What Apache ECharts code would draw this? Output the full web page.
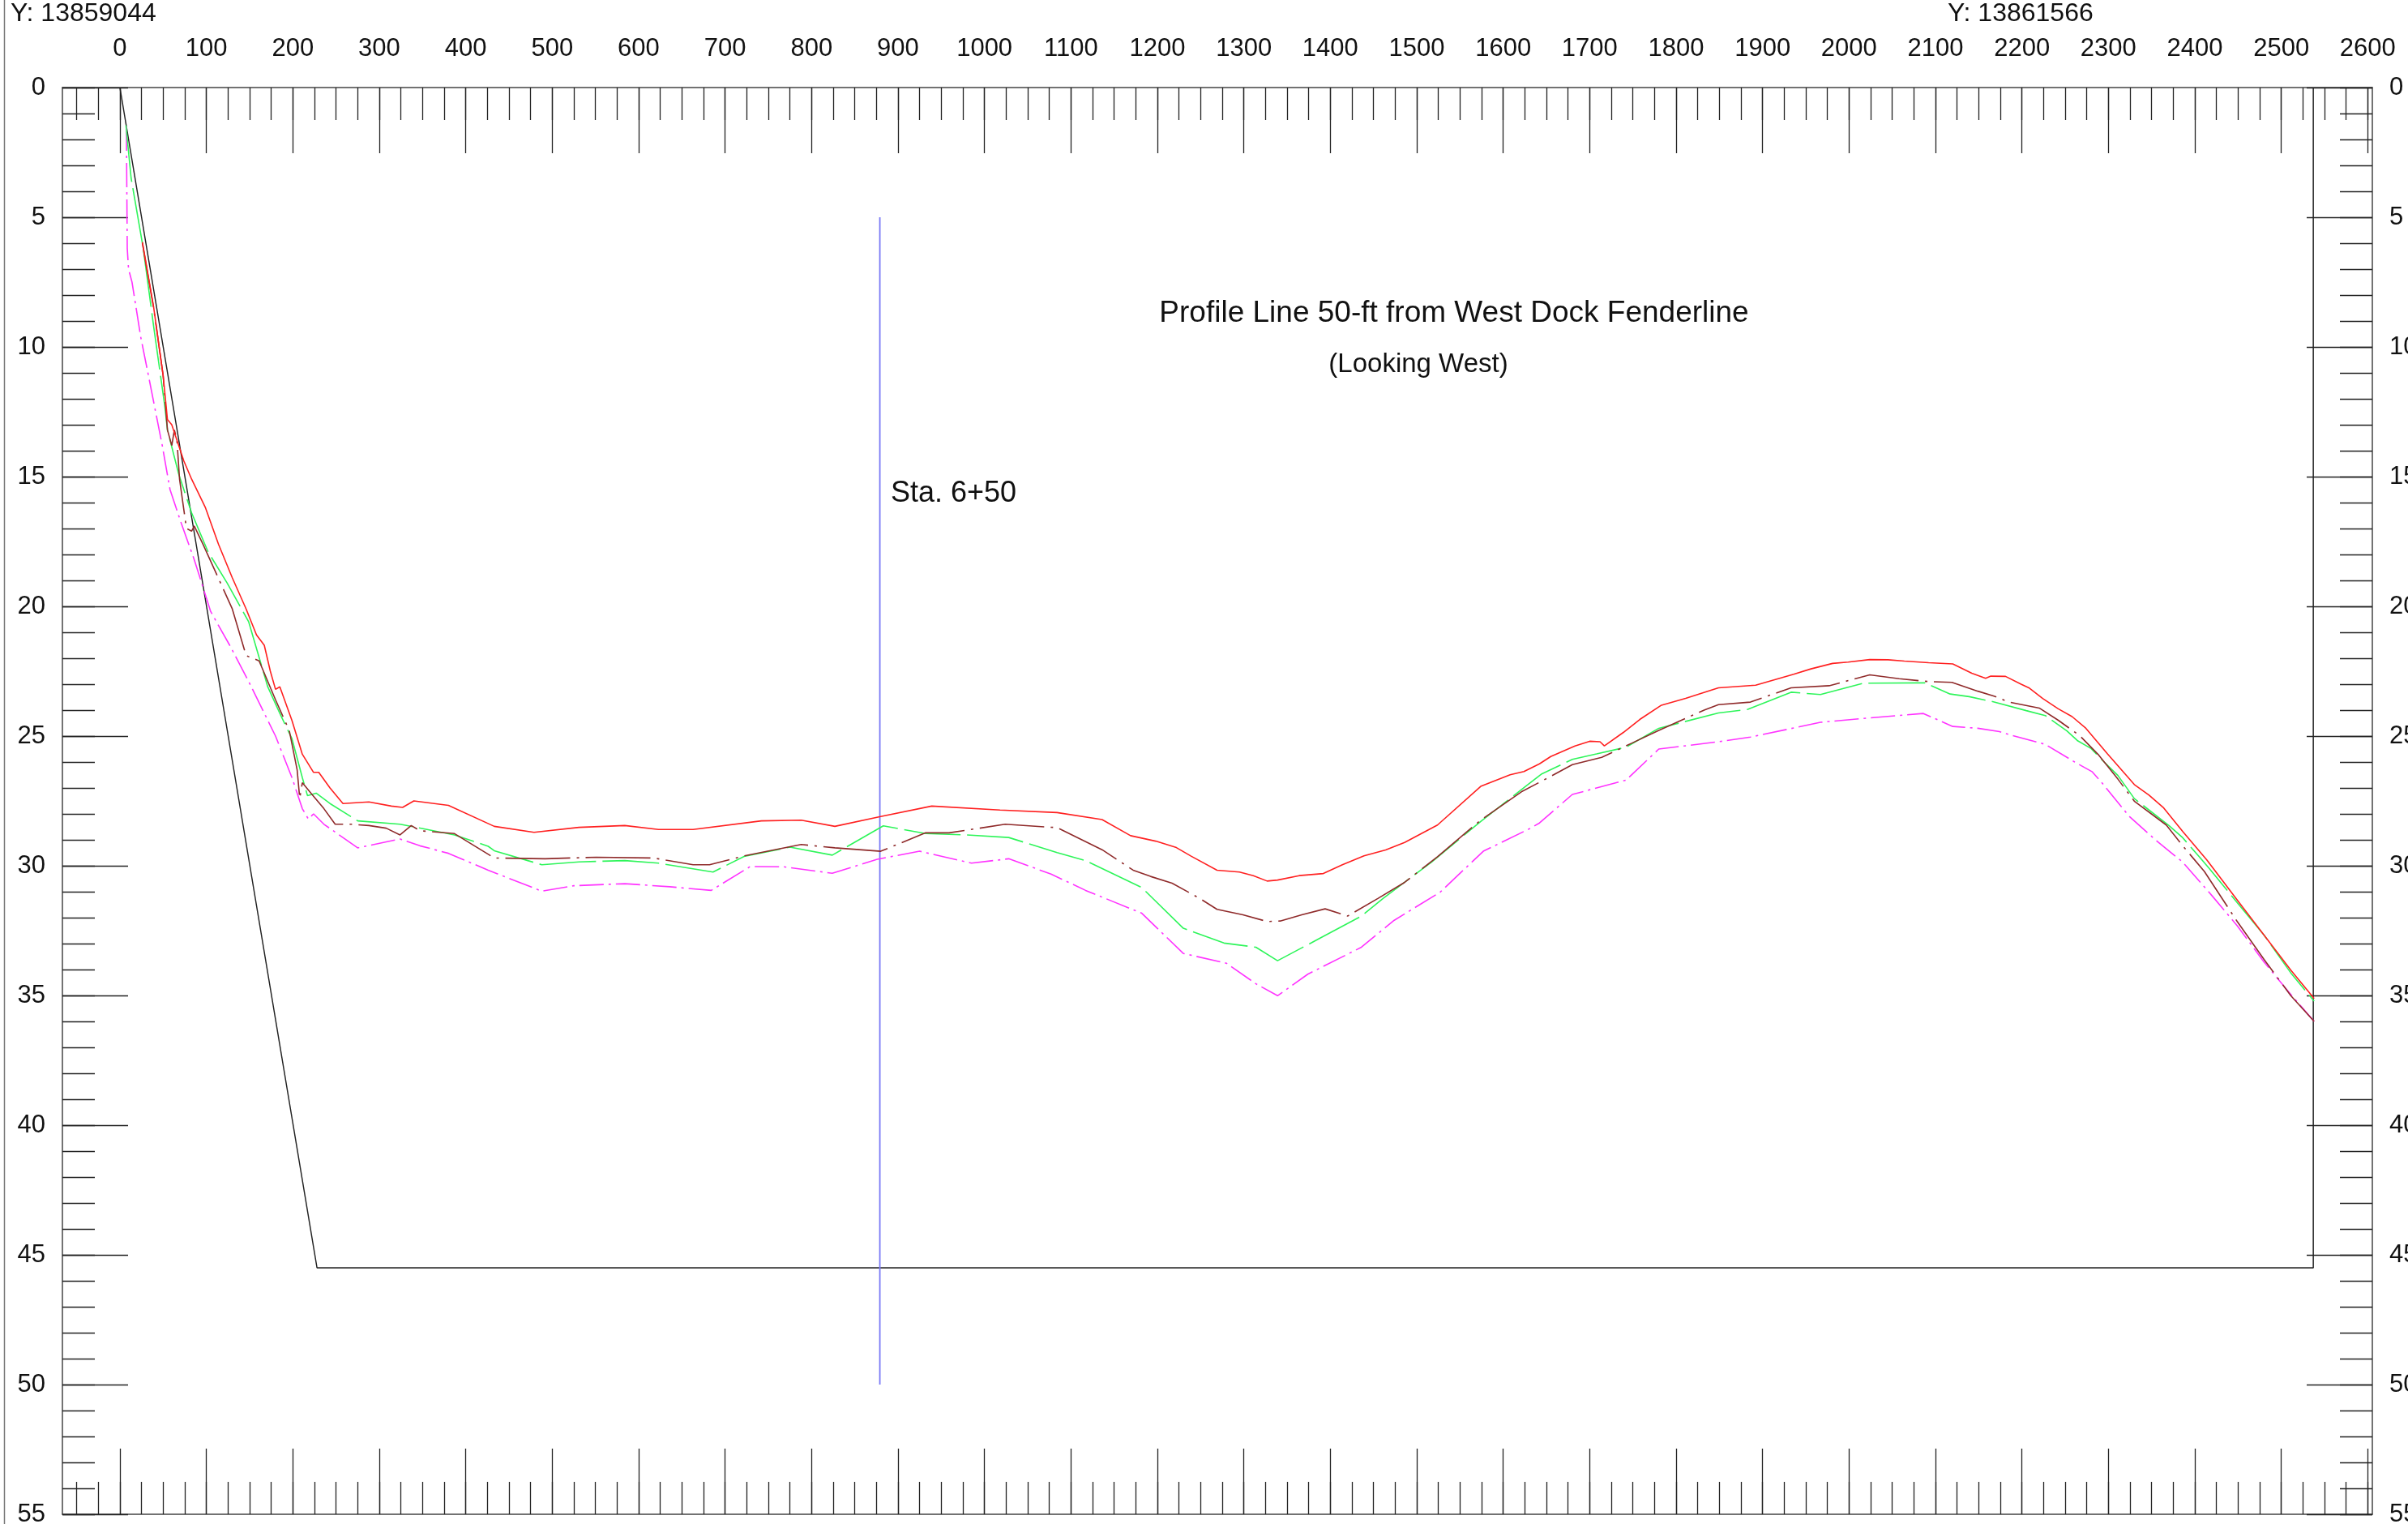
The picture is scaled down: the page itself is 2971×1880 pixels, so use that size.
<!DOCTYPE html>
<html><head><meta charset="utf-8">
<script src="https://cdn.jsdelivr.net/npm/echarts@6/dist/echarts.min.js"></script>
<style>html,body{margin:0;padding:0;background:#fff}#c{width:2971px;height:1880px}</style>
</head><body><div id="c"></div><script>
// ---- data (station ft, depth ft) ----
const redX=[26,39,50,55,60,64,74,83,99,114,130,146,158,167,174,180,185,199,211,224,230,243,258,288,314,327,340,380,433,479,531,584,623,663,742,788,827,880,939,1018,1084,1136,1169,1198,1222,1239,1269,1295,1311,1327,1339,1364,1392,1414,1439,1464,1486,1524,1574,1608,1624,1642,1655,1683,1700,1712,1717,1739,1758,1783,1811,1849,1892,1936,1956,1981,1999,2024,2045,2064,2092,2120,2142,2158,2164,2181,2199,2208,2224,2242,2258,2274,2299,2330,2347,2364,2386,2414,2449,2480,2511,2538];
const redY=[5.96,8.46,11.1,12.8,13.0,13.4,14.4,15.1,16.2,17.6,18.9,20.1,21.1,21.5,22.5,23.2,23.1,24.4,25.7,26.4,26.4,27.0,27.6,27.54,27.7,27.75,27.5,27.67,28.48,28.71,28.52,28.45,28.6,28.6,28.27,28.24,28.48,28.1,27.7,27.85,27.95,28.22,28.84,29.05,29.3,29.63,30.17,30.24,30.38,30.59,30.55,30.38,30.3,29.96,29.62,29.39,29.1,28.43,26.94,26.49,26.37,26.07,25.79,25.38,25.2,25.22,25.38,24.86,24.36,23.81,23.55,23.14,23.04,22.62,22.41,22.2,22.15,22.05,22.06,22.11,22.17,22.22,22.58,22.77,22.69,22.7,23.0,23.14,23.55,23.95,24.25,24.7,25.69,26.87,27.28,27.77,28.68,29.78,31.32,32.67,34.02,35.12];

const brownX=[26,39,50,55,60,63,66,69,77,83,86,96,111,130,146,161,180,196,205,208,211,221,236,249,268,288,308,324,337,347,387,433,492,551,617,663,682,722,788,827,880,932,959,1024,1084,1136,1172,1192,1217,1249,1269,1299,1327,1342,1367,1394,1420,1455,1486,1524,1574,1621,1645,1680,1714,1749,1780,1833,1849,1886,1933,1977,2024,2058,2092,2119,2149,2167,2185,2220,2242,2267,2289,2311,2330,2367,2386,2411,2449,2480,2511,2538];
const brownY=[6.0,8.5,11.1,13.2,13.8,13.2,13.6,15.1,17.0,17.1,16.9,17.6,18.7,20.1,21.9,22.1,23.6,24.8,26.3,27.4,26.8,27.2,27.8,28.4,28.4,28.45,28.55,28.81,28.45,28.65,28.76,29.7,29.73,29.67,29.7,29.96,29.96,29.62,29.18,29.31,29.44,28.73,28.73,28.4,28.53,29.38,30.17,30.41,30.67,31.26,31.68,31.89,32.15,32.13,31.89,31.66,31.94,31.26,30.64,29.65,28.24,27.15,26.73,26.1,25.82,25.27,24.78,23.99,23.79,23.69,23.14,23.06,22.64,22.79,22.9,22.93,23.27,23.45,23.69,23.92,24.39,24.99,25.74,26.66,27.51,28.43,29.23,30.22,32.15,33.61,35.01,36.0];

const greenX=[7,13,27,39,52,55,68,83,102,124,149,171,186,199,211,217,227,243,275,324,340,387,426,433,488,531,584,623,686,722,775,824,883,932,978,1028,1084,1117,1182,1230,1277,1314,1339,1386,1436,1461,1517,1574,1624,1644,1680,1708,1742,1780,1849,1883,1933,1967,2017,2088,2117,2139,2167,2205,2227,2252,2264,2280,2292,2311,2330,2370,2386,2405,2417,2449,2480,2511,2538];
const greenY=[1.46,3.5,6.2,9.2,12.3,13.2,14.9,16.4,17.9,19.1,20.6,23.1,24.2,25.1,26.6,27.3,27.2,27.6,28.27,28.4,28.5,28.81,29.25,29.42,29.96,29.85,29.8,29.9,30.24,29.64,29.28,29.59,28.46,28.76,28.81,28.91,29.49,29.8,30.84,32.41,32.98,33.14,33.66,32.83,31.94,31.26,29.86,28.29,26.99,26.47,25.9,25.69,25.43,24.7,24.11,23.97,23.31,23.4,22.96,22.95,23.38,23.48,23.68,24.02,24.21,24.8,25.17,25.48,25.9,26.52,27.41,28.45,28.92,29.65,30.12,31.42,32.67,34.13,35.22];

const magentaX=[7.5,8.5,10,14,24,33,49,58,71,86,105,127,149,180,199,211,218,224,236,275,324,347,380,426,488,525,584,636,684,729,768,824,876,925,985,1028,1077,1117,1182,1230,1280,1314,1339,1374,1436,1474,1527,1577,1630,1642,1680,1742,1780,1849,1886,1967,2024,2086,2120,2149,2174,2189,2227,2261,2281,2292,2324,2355,2386,2420,2449,2480,2511,2538];
const magentaY=[1.5,6.2,7.0,7.5,9.6,11.1,13.8,15.5,16.8,18.2,20.2,21.5,22.9,25.0,26.6,27.8,28.2,28.0,28.4,29.31,28.97,29.23,29.52,30.17,30.98,30.77,30.69,30.81,30.95,30.03,30.04,30.29,29.75,29.44,29.9,29.73,30.32,30.95,31.83,33.38,33.76,34.55,35.01,34.18,33.14,32.1,31.02,29.44,28.58,28.35,27.25,26.7,25.5,25.22,25.04,24.47,24.3,24.13,24.63,24.7,24.83,24.98,25.32,26.0,26.37,26.78,28.09,29.02,29.86,31.16,32.31,33.71,34.96,36.0];

const templateX=[0,228,2537,2537];
const templateY=[0,45.5,45.5,0];
const stationX=[879,879];
const stationY=[5,50];

const xTickLabels=[0,100,200,300,400,500,600,700,800,900,1000,1100,1200,1300,1400,1500,1600,1700,1800,1900,2000,2100,2200,2300,2400,2500,2600];
const yTickLabels=[0,5,10,15,20,25,30,35,40,45,50,55];
const xMinorTicks=[]; for(let v=-50; v<=2600; v+=25) xMinorTicks.push(v);
const yMinorTicks=[]; for(let v=0; v<=55; v+=1) yMinorTicks.push(v);

const X_MIN=-66.5, X_MAX=2605.3, Y_MIN=0, Y_MAX=55;
const FONT='Liberation Sans, Arial, sans-serif';

function pairs(xs, ys){ return xs.map((x,i)=>[x, ys[i]]); }
const plain = v => String(v);

function xAx(pos, ticks, len, showLine, labels){
  return {type:'value', position:pos, min:X_MIN, max:X_MAX,
    axisLine:{show:showLine, onZero:false, lineStyle:{color:'#444', width:1.5}},
    axisTick:{show:true, inside:true, length:len, customValues:ticks, lineStyle:{color:'#222', width:1.3}},
    axisLabel: labels ? {show:true, customValues:labels, formatter:plain, margin:32, fontSize:31, color:'#111', fontFamily:FONT} : {show:false},
    splitLine:{show:false}};
}
function yAx(pos, ticks, len, showLine, labels){
  return {type:'value', position:pos, inverse:true, min:Y_MIN, max:Y_MAX,
    axisLine:{show:showLine, onZero:false, lineStyle:{color:'#444', width:1.5}},
    axisTick:{show:true, inside:true, length:len, customValues:ticks, lineStyle:{color:'#222', width:1.3}},
    axisLabel: labels ? {show:true, customValues:labels, formatter:plain, margin:21, fontSize:31, color:'#111', fontFamily:FONT} : {show:false},
    splitLine:{show:false}};
}

function line(name, xs, ys, color, type, width){
  return {name, type:'line', xAxisIndex:0, yAxisIndex:0, data:pairs(xs,ys), showSymbol:false, symbol:'none',
    lineStyle:{color, width:width||1.5, type:type||'solid'}, silent:true, z:3};
}

const chart = echarts.init(document.getElementById('c'), null, {renderer:'canvas', width:2971, height:1880});
chart.setOption({
  animation:false,
  backgroundColor:'#fff',
  grid:{left:77, right:44, top:108, bottom:12, containLabel:false, outerBoundsMode:'none'},
  xAxis:[
    xAx('bottom', xMinorTicks, 40, true, null),
    xAx('bottom', xTickLabels, 81, false, null),
    xAx('top', xMinorTicks, 40, true, xTickLabels),
    xAx('top', xTickLabels, 81, false, null)
  ],
  yAxis:[
    yAx('left', yMinorTicks, 40, true, yTickLabels),
    yAx('left', yTickLabels, 81, false, null),
    yAx('right', yMinorTicks, 40, true, yTickLabels),
    yAx('right', yTickLabels, 81, false, null)
  ],
  series:[
    line('template', templateX, templateY, '#222', 'solid', 1.5),
    line('station', stationX, stationY, '#7a7af6', 'solid', 1.8),
    line('magenta', magentaX, magentaY, '#ff33ff', [30,6,3,6], 1.6),
    line('green', greenX, greenY, '#2ef55a', [70,8], 1.6),
    line('brown', brownX, brownY, '#8f2a2a', [80,8,3,8], 1.6),
    line('red', redX, redY, '#ff2020', 'solid', 1.6)
  ],
  graphic:[
    {type:'line', shape:{x1:5.5,y1:0,x2:5.5,y2:1880}, style:{stroke:'#777', lineWidth:1.5}, silent:true},
    {type:'text', x:13, y:17, style:{text:'Y: 13859044', font:'32px '+FONT, fill:'#111', align:'left', verticalAlign:'middle'}},
    {type:'text', x:2403, y:17, style:{text:'Y: 13861566', font:'32px '+FONT, fill:'#111', align:'left', verticalAlign:'middle'}},
    {type:'text', x:1794, y:387, style:{text:'Profile Line 50-ft from West Dock Fenderline', font:'37px '+FONT, fill:'#111', align:'center', verticalAlign:'middle'}},
    {type:'text', x:1750, y:450, style:{text:'(Looking West)', font:'33px '+FONT, fill:'#111', align:'center', verticalAlign:'middle'}},
    {type:'text', x:1099, y:609, style:{text:'Sta. 6+50', font:'36px '+FONT, fill:'#111', align:'left', verticalAlign:'middle'}}
  ]
});
</script></body></html>
